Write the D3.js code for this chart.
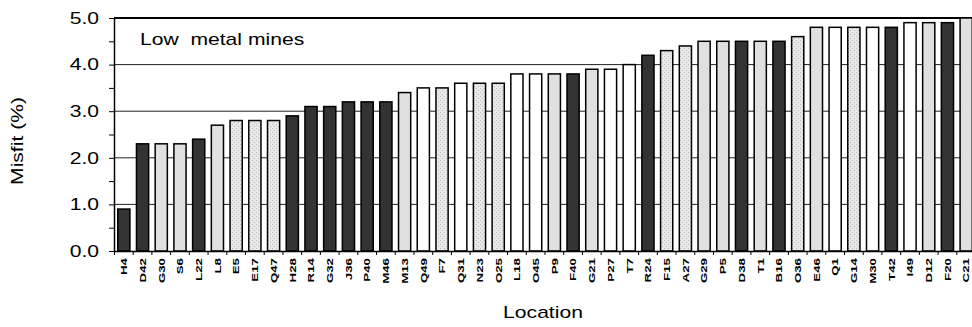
<!DOCTYPE html>
<html>
<head>
<meta charset="utf-8">
<script src="https://cdn.jsdelivr.net/npm/d3@7"></script>
<style>
    body { margin: 0; background: #fff; }
    svg { display: block; font-family: Arial, "Liberation Sans", sans-serif; }
    .axis path, .axis line { stroke: #000; }
</style>
</head>
<body>
<div id="chart"></div>
<script>
// locations, sorted by misfit
let locations = ["H4","D42","G30","S6","L22","L8","E5","E17","Q47","H28","R14","G32","J36","P40","M46",
    "M13","Q49","F7","Q31","N23","O25","L18","O45","P9","F40","G21","P27","T7","R24","F15","A27",
    "G29","P5","D38","T1","B16","O36","E46","Q1","G14","M30","T42","I49","D12","F20","C21"];

let misfit = [0.9,2.3,2.3,2.3,2.4,2.7,2.8,2.8,2.8,2.9,3.1,3.1,3.2,3.2,3.2,
    3.4,3.5,3.5,3.6,3.6,3.6,3.8,3.8,3.8,3.8,3.9,3.9,4.0,4.2,4.3,4.4,
    4.5,4.5,4.5,4.5,4.5,4.6,4.8,4.8,4.8,4.8,4.8,4.9,4.9,4.9,5.0];

// fill group: d = dark, g = light grey, w = white, p = dotted
let group = ["d","d","g","g","d","g","p","p","p","d","d","d","d","d","d",
    "g","w","p","w","p","p","w","w","g","d","g","w","w","d","p","p",
    "g","g","d","g","d","p","g","w","p","w","d","w","g","d","g"];

let yTicks = [0, 1, 2, 3, 4, 5];

let margin = {top: 18, right: -4, bottom: 76, left: 114};
let width = 972 - margin.left - margin.right,
    height = 327 - margin.top - margin.bottom;

// text in the picture is wider than it is tall
let stretch = 1.32;

let svg = d3.select("#chart").append("svg")
    .attr("width", 972)
    .attr("height", 327);

let defs = svg.append("defs");
let pat = defs.append("pattern")
    .attr("id", "dots")
    .attr("width", 4).attr("height", 4)
    .attr("patternUnits", "userSpaceOnUse");
pat.append("rect").attr("width", 4).attr("height", 4).attr("fill", "#e8e8e8");
pat.append("rect").attr("width", 1).attr("height", 1).attr("fill", "#bcbcbc");
pat.append("rect").attr("x", 2).attr("y", 2).attr("width", 1).attr("height", 1).attr("fill", "#bcbcbc");

let fills = {d: "#333333", g: "#e0e0e0", w: "#ffffff", p: "url(#dots)"};

let g = svg.append("g")
    .attr("transform", "translate(" + margin.left + "," + margin.top + ")");

let x = d3.scaleBand()
    .domain(locations)
    .range([0, width])
    .paddingInner(0.35)
    .paddingOuter(0.2);

let y = d3.scaleLinear()
    .domain([0, 5])
    .range([height, 0]);

// gridlines
g.selectAll(".grid")
    .data(yTicks.filter(d => d > 0 && d < 5))
    .enter().append("line")
    .attr("class", "grid")
    .attr("x1", 0).attr("x2", width)
    .attr("y1", d => y(d)).attr("y2", d => y(d))
    .attr("stroke", "#222")
    .attr("stroke-width", 1);

// top border
g.append("line")
    .attr("x1", 0).attr("x2", width)
    .attr("y1", 0).attr("y2", 0)
    .attr("stroke", "#000")
    .attr("stroke-width", 2);

// bars
g.selectAll(".bar")
    .data(locations)
    .enter().append("rect")
    .attr("class", "bar")
    .attr("x", d => x(d))
    .attr("width", x.bandwidth())
    .attr("y", (d, i) => y(misfit[i]))
    .attr("height", (d, i) => height - y(misfit[i]))
    .attr("fill", (d, i) => fills[group[i]])
    .attr("stroke", "#000")
    .attr("stroke-width", 1.5);

// y axis
let yAxis = g.append("g")
    .attr("class", "axis")
    .call(d3.axisLeft(y).tickValues(d3.range(0, 5.01, 0.5)).tickSize(5).tickSizeOuter(0).tickFormat(""));
yAxis.select(".domain").attr("stroke-width", 1.5);

g.selectAll(".ylab")
    .data(yTicks)
    .enter().append("g")
    .attr("class", "ylab")
    .attr("transform", d => "translate(-15," + y(d) + ")")
    .append("text")
    .attr("transform", "scale(" + stretch + ",1)")
    .attr("dy", "0.36em")
    .attr("text-anchor", "end")
    .attr("font-size", "16px")
    .text(d => d.toFixed(1));

// x axis
let xAxis = g.append("g")
    .attr("class", "axis")
    .attr("transform", "translate(0," + height + ")")
    .call(d3.axisBottom(x).tickSize(0).tickSizeOuter(0));
xAxis.select(".domain").attr("stroke-width", 1.5);

let step = x.step();
g.selectAll(".xtick")
    .data(locations)
    .enter().append("line")
    .attr("class", "xtick")
    .attr("x1", d => x(d) - (step - x.bandwidth()) / 2)
    .attr("x2", d => x(d) - (step - x.bandwidth()) / 2)
    .attr("y1", height).attr("y2", height + 4)
    .attr("stroke", "#000");

xAxis.selectAll(".tick text")
    .attr("transform", "rotate(-90) scale(1.4,1)")
    .attr("text-anchor", "end")
    .attr("x", -5)
    .attr("y", 0)
    .attr("dy", "0.35em")
    .attr("font-size", "9.5px")
    .attr("font-weight", "bold")
    .attr("fill", "#000");

// labels
g.append("g")
    .attr("transform", "translate(26,27)")
    .append("text")
    .attr("transform", "scale(" + stretch + ",1)")
    .attr("font-size", "16px")
    .style("white-space", "pre")
    .text("Low  metal mines");

svg.append("g")
    .attr("transform", "translate(23,141) rotate(-90)")
    .append("text")
    .attr("transform", "scale(" + stretch + ",1)")
    .attr("text-anchor", "middle")
    .attr("font-size", "16px")
    .text("Misfit (%)");

svg.append("g")
    .attr("transform", "translate(543,318)")
    .append("text")
    .attr("transform", "scale(" + stretch + ",1)")
    .attr("text-anchor", "middle")
    .attr("font-size", "16px")
    .text("Location");
</script>
</body>
</html>
